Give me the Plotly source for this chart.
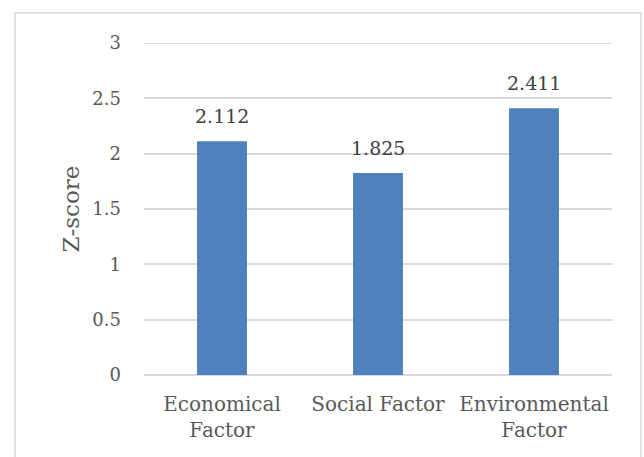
import plotly.graph_objects as go

categories = ["Economical<br>Factor", "Social Factor", "Environmental<br>Factor"]
z_scores = [2.112, 1.825, 2.411]
y_ticks = [0, 0.5, 1, 1.5, 2, 2.5, 3]
y_tick_labels = ["0", "0.5", "1", "1.5", "2", "2.5", "3"]

FONT = "DejaVu Serif"
TEXT = "#595959"
BAR = "#4F81BD"
GRID = "#D9D9D9"

W, H = 644, 457
ML, MR, MT, MB = 144, 32, 43, 82
pw, ph = W - ML - MR, H - MT - MB

fig = go.Figure(
    go.Bar(
        x=categories,
        y=z_scores,
        marker=dict(color=BAR, line=dict(width=0)),
        width=0.32,
    )
)

# value labels above each bar
for c, v in zip(categories, z_scores):
    fig.add_annotation(
        x=c, y=v, text=f"{v:.3f}", showarrow=False,
        yanchor="bottom", yshift=12,
        font=dict(family=FONT, size=19, color="#404040"),
    )

# gridline at the top of the axis range (plotly drops the one on the edge)
fig.add_shape(
    type="line", xref="paper", yref="y",
    x0=0, x1=1, y0=y_ticks[-1], y1=y_ticks[-1],
    line=dict(color=GRID, width=1.8), layer="below",
)

# light frame around the whole chart
def px_x(p):
    return (p - ML) / pw

def px_y(p):
    return (H - MB - p) / ph

fig.add_shape(
    type="rect", xref="paper", yref="paper",
    x0=px_x(15), x1=px_x(641), y0=px_y(470), y1=px_y(13),
    line=dict(color=GRID, width=1.5), fillcolor="rgba(0,0,0,0)", layer="below",
)

fig.update_layout(
    width=W, height=H,
    margin=dict(l=ML, r=MR, t=MT, b=MB),
    paper_bgcolor="white", plot_bgcolor="white",
    showlegend=False,
    bargap=0.68,
    font=dict(family=FONT, color=TEXT, size=18),
    xaxis=dict(
        tickfont=dict(family=FONT, size=20, color=TEXT),
        showgrid=False, showline=False, ticks="", ticklabelstandoff=15,
    ),
    yaxis=dict(
        range=[0, 3],
        tickvals=y_ticks, ticktext=y_tick_labels,
        tickfont=dict(family=FONT, size=18, color=TEXT),
        showgrid=True, gridcolor=GRID, gridwidth=1.8,
        zeroline=True, zerolinecolor=GRID, zerolinewidth=1.8,
        showline=False, ticks="", ticklabelstandoff=22,
        title=dict(text="Z-score", font=dict(family=FONT, size=23, color=TEXT), standoff=6),
    ),
)

fig.write_html("out.html")
